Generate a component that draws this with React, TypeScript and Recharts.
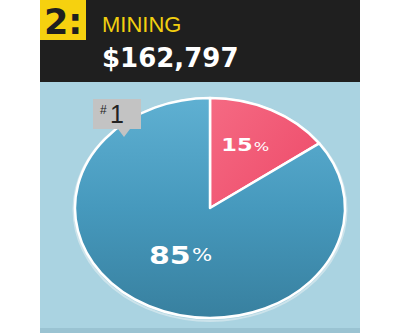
import React from "react";
import { PieChart, Pie, Cell } from "recharts";

const rankLabel = "2:";
const sectorName = "MINING";
const totalLabel = "$162,797";
const tagLabel = "1";
const sliceNames = ["Other", "Main"];
const sliceValues = [15, 85];
const sliceColors = ["url(#pinkGrad)", "url(#blueGrad)"];

const CX = 210;
const CY = 208;
const RY = 110;
const RX = 135;

const EllipseSector = (props: any) => {
  const { cx, cy, outerRadius, startAngle, endAngle, fill } = props;
  const k = RX / RY;
  const rx = outerRadius * k;
  const ry = outerRadius;
  const rad = Math.PI / 180;
  const sx = cx + rx * Math.cos(startAngle * rad);
  const sy = cy - ry * Math.sin(startAngle * rad);
  const ex = cx + rx * Math.cos(endAngle * rad);
  const ey = cy - ry * Math.sin(endAngle * rad);
  const large = Math.abs(endAngle - startAngle) > 180 ? 1 : 0;
  const sweep = endAngle < startAngle ? 1 : 0;
  const d = `M ${cx} ${cy} L ${sx} ${sy} A ${rx} ${ry} 0 ${large} ${sweep} ${ex} ${ey} Z`;
  return (
    <g>
      <defs>
        <linearGradient id="blueGrad" gradientUnits="userSpaceOnUse" x1="0" y1={cy - ry} x2="0" y2={cy + ry}>
          <stop offset="0%" stopColor="#5fb0d2" />
          <stop offset="50%" stopColor="#4699bd" />
          <stop offset="100%" stopColor="#38809f" />
        </linearGradient>
        <linearGradient id="pinkGrad" gradientUnits="userSpaceOnUse" x1={cx} y1={cy - ry} x2={cx + rx} y2={cy}>
          <stop offset="0%" stopColor="#f56a83" />
          <stop offset="100%" stopColor="#ec4565" />
        </linearGradient>
      </defs>
      <path d={d} fill={fill} stroke="#ffffff" strokeWidth={2.5} strokeLinejoin="round" />
    </g>
  );
};

const renderLabel = (props: any) => {
  const { cx, cy, midAngle, outerRadius, percent, value } = props;
  const rad = Math.PI / 180;
  const small = percent < 0.5;
  const f = small ? 0.64 : 0.48;
  const x = cx + outerRadius * (RX / RY) * Math.cos(midAngle * rad) * f - (small ? 4 : 0);
  const y = cy - outerRadius * Math.sin(midAngle * rad) * f;
  const big = small ? 18 : 24;
  const pct = small ? 13 : 17;
  return (
    <g transform={`translate(${x},${y}) scale(1.25,1)`}>
      <text
        x={0}
        y={0}
        textAnchor="middle"
        dominantBaseline="central"
        fill="#ffffff"
        fontFamily="DejaVu Sans, sans-serif"
      >
        <tspan fontWeight="bold" fontSize={big}>{value}</tspan>
        <tspan fontSize={pct} dx={1}>%</tspan>
      </text>
    </g>
  );
};

export default function App() {
  const data = sliceNames.map((n, i) => ({ name: n, value: sliceValues[i] }));
  return (
    <div style={{ position: "absolute", left: 0, top: 0, width: 400, height: 333, background: "#ffffff" }}>
      <svg width={400} height={333} style={{ position: "absolute", left: 0, top: 0 }}>
        <rect x={40} y={0} width={320} height={82} fill="#1f1f1f" />
        <rect x={40} y={82} width={320} height={246} fill="#aad3e1" />
        <rect x={40} y={328} width={320} height={5} fill="#9ac3d2" />
        <rect x={40} y={0} width={46} height={40} fill="#f6d10f" />
        <text x={44} y={34} fontFamily="DejaVu Sans, sans-serif" fontWeight="bold" fontSize={35} fill="#1f1f1f">
          {rankLabel}
        </text>
        <text x={102} y={32} fontFamily="Liberation Sans, Arial, sans-serif" fontSize={22} fill="#f2cf10">
          {sectorName}
        </text>
        <text x={102} y={67} fontFamily="DejaVu Sans, sans-serif" fontWeight="bold" fontSize={26} fill="#ffffff">
          {totalLabel}
        </text>
        <ellipse cx={CX} cy={CY + 1.5} rx={RX + 1.5} ry={RY + 1.5} fill="none" stroke="#d4e7ee" strokeWidth={2} opacity={0.8} />
      </svg>
      <div style={{ position: "absolute", left: 0, top: 0 }}>
        <PieChart width={400} height={333} margin={{ top: 0, right: 0, bottom: 0, left: 0 }}>
          <Pie
            data={data}
            dataKey="value"
            nameKey="name"
            cx={CX}
            cy={CY}
            outerRadius={RY}
            startAngle={90}
            endAngle={-270}
            stroke="#ffffff"
            shape={EllipseSector}
            label={renderLabel}
            labelLine={false}
            isAnimationActive={false}
          >
            {data.map((d, i) => (
              <Cell key={d.name} fill={sliceColors[i]} />
            ))}
          </Pie>
        </PieChart>
      </div>
      <svg width={400} height={333} style={{ position: "absolute", left: 0, top: 0, pointerEvents: "none" }}>
        <path d="M 93 99 L 141 99 L 141 129 L 130 129 L 124 137 L 118 129 L 93 129 Z" fill="#c3c3c3" />
        <text x={100} y={114} fontFamily="Liberation Sans, Arial, sans-serif" fontSize={12} fill="#222">#</text>
        <text x={110} y={123} fontFamily="Liberation Sans, Arial, sans-serif" fontSize={25} fill="#222">{tagLabel}</text>
      </svg>
    </div>
  );
}
